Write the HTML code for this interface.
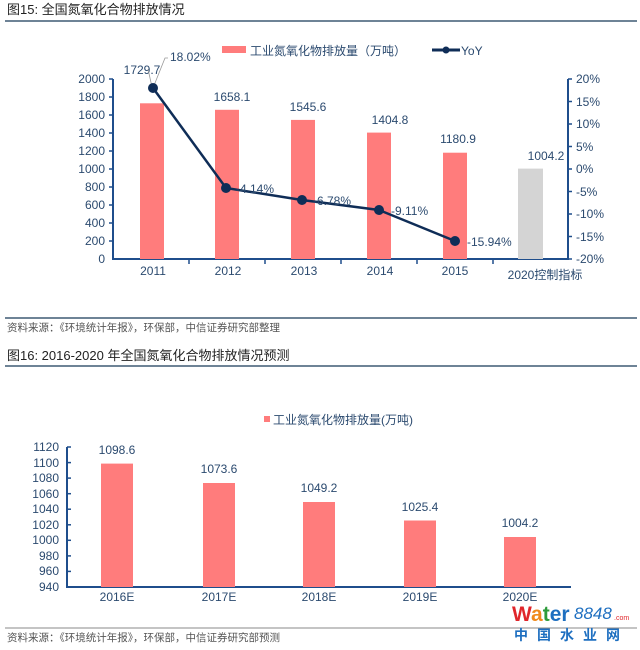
<!DOCTYPE html>
<html><head><meta charset="utf-8"><style>
body{margin:0;background:#fff;width:640px;height:650px;overflow:hidden}
svg{display:block}
text{font-family:"Liberation Sans","Noto Sans CJK SC",sans-serif}
</style></head><body>
<svg width="640" height="650" viewBox="0 0 640 650">
<!-- header 1 -->
<text x="7" y="14" font-size="13" fill="#222">图15: 全国氮氧化合物排放情况</text>
<line x1="5" y1="21" x2="637" y2="21" stroke="#6e8396" stroke-width="2"/>
<!-- legend 1 -->
<rect x="222" y="46" width="24" height="7" fill="#ff7c7c"/>
<text x="250" y="55" font-size="12" fill="#2b4a6f">工业氮氧化物排放量（万吨）</text>
<line x1="432" y1="50" x2="460" y2="50" stroke="#0f2d57" stroke-width="3"/>
<circle cx="446" cy="50" r="3.5" fill="#0f2d57"/>
<text x="461" y="55" font-size="12" fill="#2b4a6f">YoY</text>
<!-- left axis -->
<g stroke="#1f4e8c" stroke-width="2">
<line x1="113" y1="79" x2="113" y2="260"/>
<line x1="568" y1="79" x2="568" y2="260"/>
<line x1="112" y1="259" x2="569" y2="259"/>
</g>
<g stroke="#1f4e8c" stroke-width="1.5">
<line x1="109" y1="79" x2="113" y2="79"/><line x1="109" y1="97" x2="113" y2="97"/><line x1="109" y1="115" x2="113" y2="115"/><line x1="109" y1="133" x2="113" y2="133"/><line x1="109" y1="151" x2="113" y2="151"/><line x1="109" y1="169" x2="113" y2="169"/><line x1="109" y1="187" x2="113" y2="187"/><line x1="109" y1="205" x2="113" y2="205"/><line x1="109" y1="223" x2="113" y2="223"/><line x1="109" y1="241" x2="113" y2="241"/>
<line x1="568" y1="79" x2="572" y2="79"/><line x1="568" y1="101.5" x2="572" y2="101.5"/><line x1="568" y1="124" x2="572" y2="124"/><line x1="568" y1="146.5" x2="572" y2="146.5"/><line x1="568" y1="169" x2="572" y2="169"/><line x1="568" y1="191.5" x2="572" y2="191.5"/><line x1="568" y1="214" x2="572" y2="214"/><line x1="568" y1="236.5" x2="572" y2="236.5"/><line x1="568" y1="259" x2="572" y2="259"/>
<line x1="189" y1="259" x2="189" y2="264"/><line x1="265" y1="259" x2="265" y2="264"/><line x1="341" y1="259" x2="341" y2="264"/><line x1="417" y1="259" x2="417" y2="264"/><line x1="493" y1="259" x2="493" y2="264"/>
</g>
<g font-size="12" fill="#2b4a6f" text-anchor="end">
<text x="105" y="83">2000</text><text x="105" y="101">1800</text><text x="105" y="119">1600</text><text x="105" y="137">1400</text><text x="105" y="155">1200</text><text x="105" y="173">1000</text><text x="105" y="191">800</text><text x="105" y="209">600</text><text x="105" y="227">400</text><text x="105" y="245">200</text><text x="105" y="263">0</text>
</g>
<g font-size="12" fill="#2b4a6f" text-anchor="start">
<text x="576" y="83">20%</text><text x="576" y="106">15%</text><text x="576" y="128">10%</text><text x="576" y="151">5%</text><text x="576" y="173">0%</text><text x="576" y="196">-5%</text><text x="576" y="218">-10%</text><text x="576" y="241">-15%</text><text x="576" y="263">-20%</text>
</g>
<!-- bars -->
<g fill="#ff7c7c">
<rect x="140" y="103.3" width="24" height="155.7"/>
<rect x="215" y="109.8" width="24" height="149.2"/>
<rect x="291" y="119.9" width="24" height="139.1"/>
<rect x="367" y="132.6" width="24" height="126.4"/>
<rect x="443" y="152.7" width="24" height="106.3"/>
</g>
<rect x="518" y="168.6" width="25" height="90.4" fill="#d4d4d4"/>
<g font-size="12" fill="#2b4a6f" text-anchor="middle">
<text x="153" y="275">2011</text><text x="228" y="275">2012</text><text x="304" y="275">2013</text><text x="380" y="275">2014</text><text x="455" y="275">2015</text><text x="545" y="279">2020控制指标</text>
<text x="142" y="74">1729.7</text><text x="232" y="101">1658.1</text><text x="308" y="111">1545.6</text><text x="390" y="124">1404.8</text><text x="458" y="143">1180.9</text><text x="546" y="160">1004.2</text>
</g>
<line x1="148" y1="69" x2="152" y2="87" stroke="#999" stroke-width="0.8"/>
<polyline points="153,88 165,58 168,58" fill="none" stroke="#999" stroke-width="0.8"/>
<!-- line -->
<polyline points="153,88 226,188 302,200 379,210 455,241" fill="none" stroke="#0f2d57" stroke-width="2.5"/>
<g fill="#0f2d57">
<circle cx="153" cy="88" r="5"/><circle cx="226" cy="188" r="5"/><circle cx="302" cy="200" r="5"/><circle cx="379" cy="210" r="5"/><circle cx="455" cy="241" r="5"/>
</g>
<g font-size="12" fill="#2b4a6f">
<text x="170" y="61">18.02%</text>
<text x="236" y="193">-4.14%</text>
<text x="313" y="205">-6.78%</text>
<text x="391" y="215">-9.11%</text>
<text x="467" y="246">-15.94%</text>
</g>
<!-- source 1 -->
<line x1="5" y1="318" x2="637" y2="318" stroke="#6e8396" stroke-width="2"/>
<text x="7" y="331" font-size="10.5" fill="#555" font-family="Liberation Serif,'Noto Serif CJK SC',serif">资料来源：《环境统计年报》，环保部，中信证券研究部整理</text>
<text x="7" y="360" font-size="13" fill="#222">图16: 2016-2020 年全国氮氧化合物排放情况预测</text>
<line x1="5" y1="366" x2="637" y2="366" stroke="#6e8396" stroke-width="2"/>
<!-- chart 2 -->
<rect x="264" y="416" width="6" height="6" fill="#ff7c7c"/>
<text x="273" y="424" font-size="12" fill="#2b4a6f">工业氮氧化物排放量(万吨)</text>
<g stroke="#1f4e8c" stroke-width="2">
<line x1="67" y1="447" x2="67" y2="588"/>
<line x1="66" y1="587" x2="571" y2="587"/>
</g>
<g stroke="#1f4e8c" stroke-width="1.5">
<line x1="67" y1="447" x2="71" y2="447"/><line x1="67" y1="462.6" x2="71" y2="462.6"/><line x1="67" y1="478.1" x2="71" y2="478.1"/><line x1="67" y1="493.7" x2="71" y2="493.7"/><line x1="67" y1="509.2" x2="71" y2="509.2"/><line x1="67" y1="524.8" x2="71" y2="524.8"/><line x1="67" y1="540.3" x2="71" y2="540.3"/><line x1="67" y1="555.9" x2="71" y2="555.9"/><line x1="67" y1="571.4" x2="71" y2="571.4"/>
</g>
<g font-size="12" fill="#2b4a6f" text-anchor="end">
<text x="59" y="451">1120</text><text x="59" y="467">1100</text><text x="59" y="482">1080</text><text x="59" y="498">1060</text><text x="59" y="513">1040</text><text x="59" y="529">1020</text><text x="59" y="544">1000</text><text x="59" y="560">980</text><text x="59" y="575">960</text><text x="59" y="591">940</text>
</g>
<g fill="#ff7c7c">
<rect x="101" y="463.6" width="32" height="123.4"/>
<rect x="203" y="483" width="32" height="104"/>
<rect x="303" y="502" width="32" height="85"/>
<rect x="404" y="520.5" width="32" height="66.5"/>
<rect x="504" y="537" width="32" height="50"/>
</g>
<g font-size="12" fill="#2b4a6f" text-anchor="middle">
<text x="117" y="454">1098.6</text><text x="219" y="473">1073.6</text><text x="319" y="492">1049.2</text><text x="420" y="511">1025.4</text><text x="520" y="527">1004.2</text>
<text x="117" y="601">2016E</text><text x="219" y="601">2017E</text><text x="319" y="601">2018E</text><text x="420" y="601">2019E</text><text x="520" y="601">2020E</text>
</g>
<line x1="5" y1="628" x2="637" y2="628" stroke="#8a8a8a" stroke-width="1"/>
<text x="7" y="641" font-size="10.5" fill="#555" font-family="Liberation Serif,'Noto Serif CJK SC',serif">资料来源：《环境统计年报》，环保部，中信证券研究部预测</text>
<!-- watermark -->
<text x="512" y="621" font-size="21" font-weight="bold" fill="#e0262b">W<tspan fill="#f08a1c">a</tspan><tspan fill="#2d9b3a">t</tspan><tspan fill="#1e6fc0">er</tspan></text>
<text x="574" y="619" font-size="17" font-style="italic" fill="#1e6fc0" font-family="Liberation Serif,serif">8848</text>
<text x="614" y="620" font-size="7" fill="#e0262b">.com</text>
<text x="514" y="640" font-size="14" font-weight="bold" fill="#1e6fc0" letter-spacing="9">中国水业网</text>
</svg>
</body></html>
